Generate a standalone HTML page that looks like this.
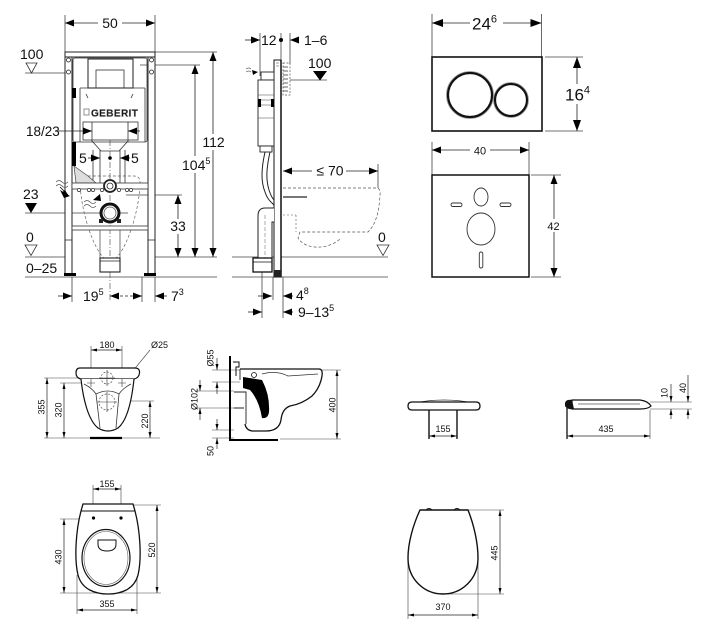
<!DOCTYPE html>
<html><head><meta charset="utf-8">
<style>
html,body{margin:0;padding:0;background:#fff;}
svg{display:block;}
text{font-family:"Liberation Sans",sans-serif;fill:#111;}
</style></head><body>
<svg width="711" height="630" viewBox="0 0 711 630" xmlns="http://www.w3.org/2000/svg">
<defs>
<marker id="A" viewBox="0 0 9 7" refX="9" refY="3.5" markerWidth="9" markerHeight="7" markerUnits="userSpaceOnUse" orient="auto-start-reverse"><path d="M0,0L9,3.5L0,7z" fill="#000"/></marker>
<marker id="B" viewBox="0 0 11 8" refX="11" refY="4" markerWidth="11" markerHeight="8" markerUnits="userSpaceOnUse" orient="auto-start-reverse"><path d="M0,0L11,4L0,8z" fill="#000"/></marker>
<marker id="s" viewBox="0 0 6 3" refX="6" refY="1.5" markerWidth="6" markerHeight="3" markerUnits="userSpaceOnUse" orient="auto-start-reverse"><path d="M0,0L6,1.5L0,3z" fill="#000"/></marker>
</defs>
<rect width="711" height="630" fill="#fff"/>

<!-- ================= FRAME FRONT VIEW ================= -->
<g fill="none" stroke="#444" stroke-width="0.8">
  <path d="M65,15V52 M155,15V52"/>
  <path d="M25,73H70 M25,257H65 M155,257H217 M25,277H217 M25,213H128 M155,52H217 M140,65H200 M126,195H182"/>
  <path d="M72,277V302 M142,277V302 M155,277V302"/>
  <path d="M110,140V302" stroke-dasharray="6,2,1,2" stroke-width="0.6"/>
</g>
<path d="M80,180 Q80,176 86,176 L134,176 Q140,176 140,182 C140,210 125,258 110,262 C95,258 80,210 80,180Z" fill="none" stroke="#666" stroke-width="0.7" stroke-dasharray="3,2"/>
<g stroke="#222" stroke-width="1" fill="#fff">
  <rect x="65" y="52" width="7" height="222"/>
  <rect x="148" y="52" width="7" height="222"/>
  <rect x="65" y="52" width="90" height="5"/>
</g>
<path d="M65,240H72 M148,240H155" stroke="#222" stroke-width="0.8"/>
<rect x="64" y="273" width="12" height="3" fill="#000"/>
<rect x="144" y="273" width="12" height="3" fill="#000"/>
<g fill="#fff" stroke="#222" stroke-width="0.8">
  <circle cx="68.5" cy="60" r="2"/><circle cx="151.5" cy="60" r="2"/>
  <circle cx="68.5" cy="72" r="2"/><circle cx="151.5" cy="72" r="2"/>
</g>
<g fill="none" stroke="#333" stroke-width="0.8">
  <rect x="73" y="58" width="74" height="84" rx="2"/>
  <rect x="88" y="59" width="45" height="29" stroke-width="1.1"/>
  <rect x="96" y="70" width="28" height="18"/>
  <path d="M80,88 H145 M80,88 V142 M145,88 V142"/>
  <rect x="83" y="122" width="55" height="18"/>
  <path d="M92,122V142 M128,122V142"/>
  <path d="M92,141 L101,151 H119 L128,141"/>
  <path d="M100,150V183 M120,150V183 M93,150V183 M125,150V183"/>
  <path d="M86,94 L88,98 M133,94 L131,98"/>
</g>
<rect x="72" y="88" width="4" height="10" fill="#000"/>
<rect x="84" y="109" width="5" height="6" fill="none" stroke="#666" stroke-width="0.7"/>
<text x="91" y="116.5" font-size="10" font-weight="bold" fill="#fff" stroke="#777" stroke-width="0.4" letter-spacing="0.4">GEBERIT</text>
<rect x="72" y="142" width="4" height="24" fill="#000"/>
<path d="M74,166 L88,176 L96,183 L76,183Z" fill="#ddd" stroke="#444" stroke-width="0.7"/>
<rect x="72" y="183" width="76" height="6" fill="#fff" stroke="#333" stroke-width="0.8"/>
<g fill="#fff" stroke="#333" stroke-width="0.7">
  <circle cx="79" cy="190" r="1.6"/><circle cx="89" cy="190" r="1.6"/><circle cx="93" cy="190" r="1.6"/>
  <circle cx="102" cy="190" r="1.6"/><circle cx="119" cy="190" r="1.6"/><circle cx="127" cy="190" r="1.6"/><circle cx="131" cy="190" r="1.6"/>
</g>
<circle cx="110" cy="186" r="6" fill="#fff" stroke="#222" stroke-width="1.8"/>
<circle cx="110" cy="186" r="3" fill="none" stroke="#222" stroke-width="0.8"/>
<path d="M101,213 H119" stroke="#444" stroke-width="0.6"/>
<circle cx="110" cy="213" r="9" fill="#fff" stroke="#111" stroke-width="3"/>
<circle cx="110" cy="213" r="6" fill="none" stroke="#555" stroke-width="0.8"/>
<rect x="99" y="219" width="4" height="4" fill="#222"/><rect x="117" y="219" width="4" height="4" fill="#222"/>
<rect x="72" y="226" width="76" height="4" fill="#fff" stroke="#333" stroke-width="0.8"/>
<path d="M100,230V258 M120,230V258" stroke="#555" stroke-width="0.8"/>
<rect x="100" y="258" width="20" height="14" fill="#fff" stroke="#222" stroke-width="1.1"/>
<path d="M100,261H120" stroke="#222" stroke-width="0.8"/>
<path d="M56,182 q3,-3 6,0 t6,0 M56,186 q3,-3 6,0 t6,0" fill="none" stroke="#555" stroke-width="0.8"/>
<path d="M60,187 L68,195" stroke="#000" stroke-width="0.8" marker-end="url(#s)"/>
<path d="M60,190 L70,196 L64,198Z" fill="#000"/>
<path d="M84,202 q3,-3 6,0 t6,0 M84,206 q3,-3 6,0 t6,0" fill="none" stroke="#555" stroke-width="0.8"/>
<path d="M93,200 L100,194 L101,201Z" fill="#000"/>
<g stroke="#222" stroke-width="0.8" fill="none">
  <line x1="65" y1="23" x2="155" y2="23" marker-start="url(#A)" marker-end="url(#A)"/>
  <line x1="213" y1="52" x2="213" y2="257" marker-start="url(#A)" marker-end="url(#A)"/>
  <line x1="195" y1="65" x2="195" y2="257" marker-start="url(#A)" marker-end="url(#A)"/>
  <line x1="178" y1="195" x2="178" y2="257" marker-start="url(#A)" marker-end="url(#A)"/>
  <line x1="58" y1="131" x2="92" y2="131" marker-end="url(#A)"/>
  <line x1="140" y1="131" x2="128" y2="131" marker-end="url(#A)"/>
  <line x1="88" y1="158" x2="100" y2="158" marker-end="url(#A)"/>
  <line x1="130" y1="158" x2="120" y2="158" marker-end="url(#A)"/>
  <line x1="58" y1="296" x2="72" y2="296" marker-end="url(#A)"/>
  <line x1="110" y1="296" x2="142" y2="296" stroke-dasharray="3,2" marker-start="url(#A)" marker-end="url(#A)"/>
  <line x1="167" y1="296" x2="155" y2="296" marker-end="url(#A)"/>
</g>
<circle cx="110" cy="158" r="1.8" fill="#000"/>
<rect x="98" y="13" width="24" height="18" fill="#fff"/>
<text x="110" y="28" font-size="14" text-anchor="middle">50</text>
<rect x="200" y="134" width="27" height="16" fill="#fff"/>
<text x="213.5" y="147" font-size="14" text-anchor="middle">112</text>
<rect x="180" y="156" width="32" height="17" fill="#fff"/>
<text x="182" y="170" font-size="14">104<tspan font-size="9" dy="-6">5</tspan></text>
<rect x="168" y="219" width="20" height="15" fill="#fff"/>
<text x="178" y="231" font-size="14" text-anchor="middle">33</text>
<text x="20" y="59" font-size="14">100</text>
<polygon points="26,63 37,63 31.5,73" fill="#fff" stroke="#333" stroke-width="0.8"/>
<text x="26" y="136" font-size="13.5">18/23</text>
<text x="79" y="163" font-size="14">5</text>
<text x="131" y="163" font-size="14">5</text>
<text x="23" y="199" font-size="14">23</text>
<polygon points="25,203 37,203 31,213" fill="#000"/>
<text x="26" y="242" font-size="14">0</text>
<polygon points="25,245 37,245 31,255.5" fill="#fff" stroke="#333" stroke-width="0.8"/>
<text x="26" y="273" font-size="14">0–25</text>
<text x="83" y="301" font-size="14">19<tspan font-size="9" dy="-6">5</tspan></text>
<text x="171" y="301" font-size="14">7<tspan font-size="9" dy="-6">3</tspan></text>

<!-- ================= SIDE VIEW ================= -->
<g fill="none" stroke="#444" stroke-width="0.8">
  <path d="M260,33V76 M281,33V60 M290,33V64"/>
  <path d="M232,257H388 M232,277H388"/>
  <path d="M262,262V318 M273,277V300 M283,277V318"/>
  <path d="M378,164V188"/>
  <path d="M290,80H327"/>
</g>
<path d="M283,188 H376 Q381,188 380,195 C379,212 376,224 368,232 H300 L298,238 C305,250 328,250 340,239" fill="none" stroke="#555" stroke-width="0.7" stroke-dasharray="3,2"/>
<path d="M283,215H296 M296,215V232" fill="none" stroke="#555" stroke-width="0.6" stroke-dasharray="2,2"/>
<path d="M283,197H307" stroke="#777" stroke-width="2"/>
<rect x="274" y="60" width="7" height="217" fill="#fff" stroke="#111" stroke-width="1"/>
<path d="M281,60V277" stroke="#000" stroke-width="1.4"/>
<path d="M276,63h3 M276,66h3" stroke="#444" stroke-width="0.6"/>
<rect x="283" y="63" width="7" height="32" fill="none" stroke="#555" stroke-width="0.7" stroke-dasharray="2,1.5"/>
<path d="M283,67h5 M283,71h5 M283,75h5 M283,79h5 M283,83h5 M283,87h5 M283,91h5" stroke="#333" stroke-width="0.8"/>
<g fill="#fff" stroke="#222" stroke-width="0.9">
  <rect x="261" y="72" width="13" height="8"/>
  <rect x="258" y="80" width="16" height="66"/>
  <rect x="260" y="146" width="12" height="6"/>
</g>
<path d="M258,95H274 M258,100H274 M258,105H274 M258,118H274" stroke="#444" stroke-width="0.6"/>
<rect x="258" y="99" width="3" height="8" fill="#000"/>
<rect x="271" y="99" width="3" height="8" fill="#000"/>
<path d="M246,69 q3,-2 5,0 M246,72 q3,-2 5,0" fill="none" stroke="#666" stroke-width="0.7"/>
<path d="M252,70 L258,72 L253,75Z" fill="#000"/>
<path d="M265,152 C261,170 261,182 265,192 C267,199 271,202 274,205 M270,152 C266,170 266,180 269,190 C271,196 273,199 274,200" fill="none" stroke="#222" stroke-width="1"/>
<path d="M274,208 H265 Q258,208 258,216 V258 H272 V222 H274" fill="#fff" stroke="#222" stroke-width="1"/>
<path d="M265,215V258" stroke="#777" stroke-width="0.6" stroke-dasharray="4,2"/>
<rect x="253" y="258" width="19" height="14" fill="#fff" stroke="#111" stroke-width="1.3"/>
<path d="M253,262H272" stroke="#111" stroke-width="0.8"/>
<rect x="274" y="270" width="7" height="7" fill="#222"/>
<g stroke="#222" stroke-width="0.8" fill="none">
  <line x1="245" y1="40" x2="260" y2="40" marker-end="url(#A)"/>
  <line x1="298" y1="40" x2="290" y2="40" marker-end="url(#A)"/>
  <line x1="283" y1="171" x2="378" y2="171" marker-start="url(#A)" marker-end="url(#A)"/>
  <line x1="258" y1="296" x2="272" y2="296" marker-end="url(#A)"/>
  <line x1="293" y1="296" x2="283" y2="296" marker-end="url(#A)"/>
  <line x1="248" y1="312" x2="262" y2="312" marker-end="url(#A)"/>
  <line x1="293" y1="312" x2="283" y2="312" marker-end="url(#A)"/>
</g>
<circle cx="281" cy="40" r="2" fill="#000"/>
<text x="261" y="45" font-size="14">12</text>
<text x="304" y="45" font-size="14">1–6</text>
<text x="308" y="68" font-size="14">100</text>
<polygon points="313,71 327,71 320,80.5" fill="#000"/>
<rect x="312" y="163" width="34" height="15" fill="#fff"/>
<text x="330" y="175.5" font-size="14" text-anchor="middle">≤ 70</text>
<text x="378" y="242" font-size="14">0</text>
<polygon points="377,245 389,245 383,255.5" fill="#fff" stroke="#333" stroke-width="0.8"/>
<text x="296" y="300" font-size="14">4<tspan font-size="9" dy="-6">8</tspan></text>
<text x="298" y="317" font-size="14">9–13<tspan font-size="9" dy="-6">5</tspan></text>

<!-- ================= FLUSH PLATE ================= -->
<g fill="none" stroke="#444" stroke-width="0.8">
  <path d="M432,14V57 M541.5,14V57"/>
  <path d="M545,57H583 M545,131H583"/>
  <path d="M432,142V175 M529,142V175"/>
  <path d="M531,175H561 M531,277H561"/>
</g>
<g stroke="#222" stroke-width="0.8" fill="none">
  <line x1="432" y1="23" x2="541.5" y2="23" marker-start="url(#B)" marker-end="url(#B)"/>
  <line x1="577" y1="57" x2="577" y2="131" marker-start="url(#B)" marker-end="url(#B)"/>
  <line x1="432" y1="150" x2="529" y2="150" marker-start="url(#A)" marker-end="url(#A)"/>
  <line x1="554" y1="175" x2="554" y2="277" marker-start="url(#A)" marker-end="url(#A)"/>
</g>
<rect x="470" y="13" width="33" height="20" fill="#fff"/>
<text x="472" y="29.5" font-size="17">24<tspan font-size="11" dy="-7">6</tspan></text>
<rect x="564" y="84" width="28" height="20" fill="#fff"/>
<text x="565" y="100.5" font-size="17">16<tspan font-size="11" dy="-7">4</tspan></text>
<rect x="470" y="144" width="20" height="12" fill="#fff"/>
<text x="480" y="154.5" font-size="11" text-anchor="middle">40</text>
<rect x="546" y="219" width="16" height="13" fill="#fff"/>
<text x="553.5" y="230" font-size="11" text-anchor="middle">42</text>
<rect x="432" y="57" width="110" height="74" fill="#fff" stroke="#111" stroke-width="1.6"/>
<circle cx="470" cy="95" r="23.5" fill="none" stroke="#999" stroke-width="0.8"/>
<circle cx="470" cy="95" r="22" fill="#fff" stroke="#111" stroke-width="2.2"/>
<circle cx="511" cy="100" r="17.5" fill="none" stroke="#999" stroke-width="0.8"/>
<circle cx="511" cy="100" r="16" fill="#fff" stroke="#111" stroke-width="2.2"/>
<rect x="432" y="175" width="97" height="102" fill="#fff" stroke="#111" stroke-width="1.5"/>
<g fill="#fff" stroke="#333" stroke-width="0.9">
  <ellipse cx="481" cy="197" rx="7" ry="9"/>
  <rect x="451" y="203" width="11" height="3.5" rx="1.7"/>
  <rect x="500" y="203" width="11" height="3.5" rx="1.7"/>
  <ellipse cx="481" cy="229" rx="14" ry="16"/>
  <rect x="479.3" y="252" width="3.5" height="16" rx="1.7"/>
</g>

<!-- ================= BOWL FRONT ================= -->
<g fill="none" stroke="#444" stroke-width="0.6">
  <path d="M91,346V384 M122,346V384"/>
  <path d="M44,378H92 M60,383H92 M44,438H160 M110,401H154"/>
  <path d="M150,350 L123,383"/>
</g>
<g stroke="#222" stroke-width="0.7" fill="none">
  <line x1="91" y1="350" x2="122" y2="350" marker-start="url(#s)" marker-end="url(#s)"/>
  <line x1="47" y1="378" x2="47" y2="438" marker-start="url(#s)" marker-end="url(#s)"/>
  <line x1="64" y1="383" x2="64" y2="438" marker-start="url(#s)" marker-end="url(#s)"/>
  <line x1="150" y1="401" x2="150" y2="438" marker-start="url(#s)" marker-end="url(#s)"/>
</g>
<path d="M80,368 H135 Q140,368 139.5,373 Q139,378 134,379 H81 Q76,378 76,373 Q76,368 80,368Z" fill="#fff" stroke="#111" stroke-width="1.2"/>
<path d="M81,379 C83,398 88,420 98,428 Q108,434 118,428 C128,420 132,398 134,379" fill="#fff" stroke="#111" stroke-width="1.2"/>
<path d="M84,384 Q92,388 96,394 L100,428 M131,384 Q123,388 119,394 L116,428 M96,394 Q108,388 119,394" fill="none" stroke="#333" stroke-width="0.8"/>
<circle cx="107" cy="378" r="6" fill="none" stroke="#555" stroke-width="0.7" stroke-dasharray="2,1.5"/>
<circle cx="107" cy="402" r="8" fill="none" stroke="#555" stroke-width="0.7" stroke-dasharray="2,1.5"/>
<path d="M99,378H115 M107,370V386 M97,402H117 M107,392V412 M87,383H95 M91,379V387 M118,383H126 M122,379V387" stroke="#333" stroke-width="0.6"/>
<path d="M90,438H122" stroke="#000" stroke-width="2.2"/>
<text x="107" y="348" font-size="9" text-anchor="middle">180</text>
<text x="151" y="348" font-size="9">Ø25</text>
<text transform="translate(44.5,407) rotate(-90)" font-size="9" text-anchor="middle">355</text>
<text transform="translate(61.5,410) rotate(-90)" font-size="9" text-anchor="middle">320</text>
<text transform="translate(148,421) rotate(-90)" font-size="9" text-anchor="middle">220</text>

<!-- ================= BOWL SIDE ================= -->
<g fill="none" stroke="#444" stroke-width="0.6">
  <path d="M212,370H240 M212,382H240 M195,391H234 M195,408H234 M212,430H234 M212,438H234"/>
  <path d="M320,370H341 M280,439H341"/>
</g>
<g stroke="#222" stroke-width="0.7" fill="none">
  <line x1="217" y1="358" x2="217" y2="370" marker-end="url(#s)"/>
  <line x1="217" y1="394" x2="217" y2="382" marker-end="url(#s)"/>
  <line x1="200" y1="380" x2="200" y2="391" marker-end="url(#s)"/>
  <line x1="200" y1="420" x2="200" y2="408" marker-end="url(#s)"/>
  <line x1="217" y1="419" x2="217" y2="430" marker-end="url(#s)"/>
  <line x1="217" y1="449" x2="217" y2="438" marker-end="url(#s)"/>
  <line x1="337" y1="370" x2="337" y2="439" marker-start="url(#s)" marker-end="url(#s)"/>
</g>
<path d="M240,369 H319 Q323,369 322,376 Q320,388 312,396 Q302,404 290,406 Q282,409 281,420 Q279,431 266,431 H252 Q246,430 245,424" fill="#fff" stroke="#111" stroke-width="1.3"/>
<path d="M240,369 V380 M234,392 H246 V424 M234,408 H244" fill="none" stroke="#222" stroke-width="0.9"/>
<path d="M262,374 Q276,370 288,376 L318,374" fill="none" stroke="#333" stroke-width="0.8"/>
<path d="M243,377 L262,380 Q270,395 269,412 Q268,419 262,418 Q259,400 250,390 L243,388 Z" fill="#000"/>
<circle cx="254" cy="375" r="2.5" fill="#fff" stroke="#111" stroke-width="0.8"/>
<path d="M233,362 h6 v5 h-3 v9" fill="none" stroke="#111" stroke-width="1"/>
<path d="M230,356V440H278" fill="none" stroke="#000" stroke-width="2"/>
<text transform="translate(213.5,358) rotate(-90)" font-size="9" text-anchor="middle">Ø55</text>
<text transform="translate(197.5,399) rotate(-90)" font-size="9" text-anchor="middle">Ø102</text>
<text transform="translate(213.5,451) rotate(-90)" font-size="9" text-anchor="middle">50</text>
<text transform="translate(335.5,405) rotate(-90)" font-size="9" text-anchor="middle">400</text>

<!-- ================= SEAT SIDE VIEWS ================= -->
<path d="M414,403 Q444,397 474,403" fill="none" stroke="#333" stroke-width="0.8"/>
<path d="M412,402 H476 Q480,402 480,406 Q480,410 476,410 H412 Q408,410 408,406 Q408,402 412,402Z" fill="#fff" stroke="#111" stroke-width="1.3"/>
<path d="M429,410V439 M457,410V439" stroke="#111" stroke-width="1.4"/>
<line x1="429" y1="436" x2="457" y2="436" stroke="#222" stroke-width="0.7" marker-start="url(#s)" marker-end="url(#s)"/>
<text x="443" y="432" font-size="9" text-anchor="middle">155</text>

<path d="M572,400 H640 Q648,401 651,406 Q648,409 640,409 H572Z" fill="#fff" stroke="#111" stroke-width="1.2"/>
<path d="M565,403 Q566,399 572,400 L574,409 Q567,410 565,406Z" fill="#111"/>
<path d="M578,404 H640" stroke="#555" stroke-width="0.7"/>
<path d="M567,408V439" stroke="#111" stroke-width="1.3"/>
<g fill="none" stroke="#444" stroke-width="0.6">
  <path d="M650,410V439 M650,402H692 M650,409H692"/>
</g>
<g stroke="#222" stroke-width="0.7" fill="none">
  <line x1="567" y1="436" x2="650" y2="436" marker-start="url(#s)" marker-end="url(#s)"/>
  <line x1="671" y1="384" x2="671" y2="402" marker-end="url(#s)"/>
  <line x1="671" y1="419" x2="671" y2="409" marker-end="url(#s)"/>
  <line x1="688" y1="375" x2="688" y2="402" marker-end="url(#s)"/>
  <line x1="688" y1="419" x2="688" y2="409" marker-end="url(#s)"/>
</g>
<text x="606" y="432" font-size="9" text-anchor="middle">435</text>
<text transform="translate(667.5,393) rotate(-90)" font-size="9" text-anchor="middle">10</text>
<text transform="translate(686,388) rotate(-90)" font-size="9" text-anchor="middle">40</text>

<!-- ================= BOWL TOP VIEW ================= -->
<g fill="none" stroke="#444" stroke-width="0.6">
  <path d="M93,485V519 M121,485V519"/>
  <path d="M60,519H93 M60,593H110 M133,505H161 M110,593H161"/>
  <path d="M77,575V614 M137,575V614"/>
</g>
<g stroke="#222" stroke-width="0.7" fill="none">
  <line x1="93" y1="489" x2="121" y2="489" marker-start="url(#s)" marker-end="url(#s)"/>
  <line x1="64" y1="519" x2="64" y2="593" marker-start="url(#s)" marker-end="url(#s)"/>
  <line x1="157" y1="505" x2="157" y2="593" marker-start="url(#s)" marker-end="url(#s)"/>
  <line x1="77" y1="610" x2="137" y2="610" marker-start="url(#s)" marker-end="url(#s)"/>
</g>
<path d="M83,504 H133 L135,511 C140,530 142,558 138,575 C134,590 120,594 108,594 C96,594 82,590 78,575 C74,558 76,530 81,511 Z" fill="#fff" stroke="#111" stroke-width="1.3"/>
<path d="M81,511H135" stroke="#111" stroke-width="1"/>
<ellipse cx="106" cy="558" rx="24" ry="28.5" fill="none" stroke="#111" stroke-width="1.2"/>
<ellipse cx="106" cy="558" rx="22" ry="26.5" fill="none" stroke="#555" stroke-width="0.6"/>
<path d="M98,540 H116 V544 Q116,551 107,551 Q98,551 98,544Z" fill="#fff" stroke="#111" stroke-width="1"/>
<circle cx="93.5" cy="518" r="1.6" fill="#000"/>
<circle cx="121" cy="518" r="1.6" fill="#000"/>
<text x="107" y="487" font-size="9" text-anchor="middle">155</text>
<text transform="translate(61.5,557) rotate(-90)" font-size="9" text-anchor="middle">430</text>
<text transform="translate(155,550) rotate(-90)" font-size="9" text-anchor="middle">520</text>
<text x="107" y="607" font-size="9" text-anchor="middle">355</text>

<!-- ================= SEAT TOP VIEW ================= -->
<g fill="none" stroke="#444" stroke-width="0.6">
  <path d="M468,510H504 M443,594H504"/>
  <path d="M408,560V619 M478,560V619"/>
</g>
<g stroke="#222" stroke-width="0.7" fill="none">
  <line x1="500" y1="510" x2="500" y2="594" marker-start="url(#s)" marker-end="url(#s)"/>
  <line x1="408" y1="615" x2="478" y2="615" marker-start="url(#s)" marker-end="url(#s)"/>
</g>
<path d="M420,510 C413,525 408,543 408,558 C408,580 425,594 443,594 C461,594 478,580 478,558 C478,543 474,525 468,510 Z" fill="#fff" stroke="#111" stroke-width="1.4"/>
<path d="M426,510 q3,-3 6,0 M454,510 q3,-3 6,0" fill="none" stroke="#111" stroke-width="1"/>
<text transform="translate(497.5,553) rotate(-90)" font-size="9" text-anchor="middle">445</text>
<text x="443" y="610" font-size="9" text-anchor="middle">370</text>
</svg>
</body></html>
